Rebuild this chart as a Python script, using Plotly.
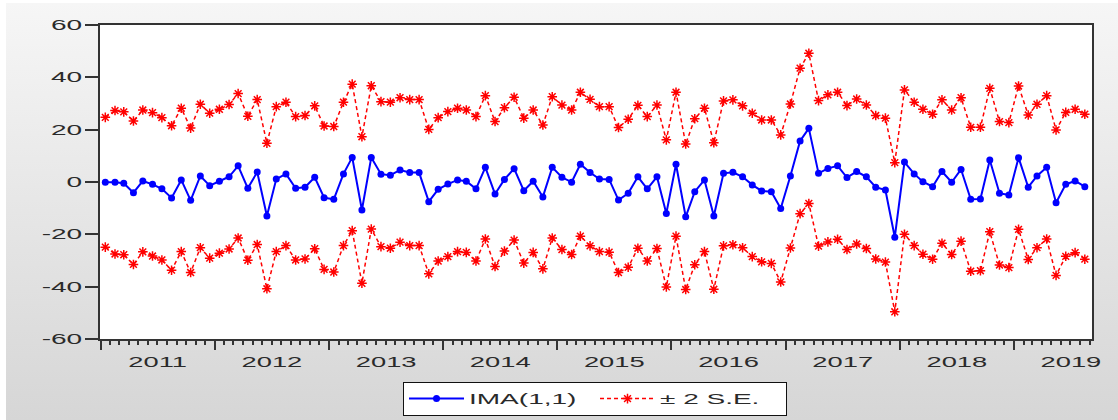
import base64
import pandas as pd
import plotly.graph_objects as go

# ---------------- data ----------------
start_month = "2011-01-01"
n_obs = 104
forecast = [
    -0.1, -0.1, -0.5, -4.1, 0.4, -0.9, -2.6, -6.1, 0.8, -7.0, 2.3, -1.4,
    0.3, 2.0, 6.2, -2.4, 3.8, -13.0, 1.1, 3.1, -2.4, -2.0, 1.8, -6.0,
    -6.6, 3.1, 9.4, -10.7, 9.4, 3.0, 2.6, 4.6, 3.6, 3.6, -7.5, -2.8,
    -0.8, 0.8, 0.3, -2.6, 5.6, -4.6, 1.0, 5.1, -3.3, 0.3, -5.7, 5.6,
    1.8, -0.1, 6.8, 3.6, 1.1, 1.0, -6.9, -4.3, 2.0, -2.6, 2.0, -12.0,
    6.8, -13.3, -3.7, 0.8, -13.0, 3.3, 3.7, 2.0, -1.1, -3.4, -3.7, -10.1,
    2.3, 15.7, 20.5, 3.3, 5.2, 6.2, 1.7, 4.0, 2.0, -2.0, -3.1, -21.1,
    7.6, 3.1, 0.1, -1.8, 4.0, -0.1, 4.8, -6.6, -6.5, 8.4, -4.3, -5.0,
    9.3, -2.0, 2.3, 5.6, -7.9, -0.9, 0.4, -1.8,
]
two_se = [
    24.8, 27.4, 27.3, 27.4, 27.1, 27.4, 27.2, 27.6, 27.4, 27.6, 27.4, 27.7,
    27.5, 27.6, 27.6, 27.5, 27.7, 27.8, 27.7, 27.4, 27.4, 27.4, 27.3, 27.4,
    27.8, 27.4, 28.0, 28.0, 27.4, 27.7, 27.9, 27.6, 27.9, 27.9, 27.6, 27.4,
    27.7, 27.4, 27.2, 27.6, 27.4, 27.7, 27.4, 27.3, 27.7, 27.2, 27.5, 27.0,
    27.6, 27.6, 27.5, 28.0, 27.7, 27.8, 27.7, 28.3, 27.3, 27.6, 27.4, 28.1,
    27.5, 27.8, 27.9, 27.4, 28.0, 27.7, 27.7, 27.1, 27.4, 27.1, 27.4, 28.1,
    27.5, 27.8, 28.7, 27.8, 28.1, 28.1, 27.5, 27.7, 27.4, 27.4, 27.5, 28.5,
    27.6, 27.4, 27.7, 27.7, 27.4, 27.6, 27.4, 27.5, 27.4, 27.4, 27.4, 27.7,
    27.4, 27.6, 27.4, 27.4, 27.8, 27.5, 27.4, 27.7,
]
series_names = ["IMA(1,1)", "\u00b1 2 S.E."]
y_tick_values = [-60, -40, -20, 0, 20, 40, 60]
y_tick_labels = ["-60", "-40", "-20", "0", "20", "40", "60"]

# ---------------- derived ----------------
dates = pd.date_range(start_month, periods=n_obs, freq="MS") + pd.Timedelta(days=15)
upper = [f + s for f, s in zip(forecast, two_se)]
lower = [f - s for f, s in zip(forecast, two_se)]

BLUE = "#0000ff"
RED = "#ff0000"
TXT = "#2a2a2a"
FONT = "Liberation Sans, Arial, sans-serif"

fig = go.Figure()
fig.add_trace(go.Scatter(
    x=dates, y=forecast, name=series_names[0], mode="lines+markers",
    line=dict(color=BLUE, width=2),
    marker=dict(symbol="circle", size=7, color=BLUE),
))
fig.add_trace(go.Scatter(
    x=dates, y=upper, name=series_names[1], mode="lines+markers",
    legendgroup="se",
    line=dict(color=RED, width=1.5, dash="4px,3px"),
    marker=dict(symbol="asterisk-open", size=8, color=RED, line=dict(color=RED, width=1.5)),
))
fig.add_trace(go.Scatter(
    x=dates, y=lower, name=series_names[1], mode="lines+markers",
    legendgroup="se", showlegend=False,
    line=dict(color=RED, width=1.5, dash="4px,3px"),
    marker=dict(symbol="asterisk-open", size=8, color=RED, line=dict(color=RED, width=1.5)),
))

# gray gradient background for the whole panel
svg = (
    '<svg xmlns="http://www.w3.org/2000/svg" width="100" height="100" preserveAspectRatio="none">'
    '<defs><linearGradient id="g" x1="0" y1="0" x2="0" y2="1">'
    '<stop offset="0" stop-color="#f6f6f6"/><stop offset="1" stop-color="#d6d6d6"/>'
    '</linearGradient></defs><rect width="100" height="100" fill="url(#g)"/></svg>'
)
svg_uri = "data:image/svg+xml;base64," + base64.b64encode(svg.encode()).decode()

W, H = 1118, 420
ML, MR, MT, MB = 100, 26, 25, 81
pw, ph = W - ML - MR, H - MT - MB
px0, py0 = 6, 3  # panel top-left in page pixels

fig.add_layout_image(dict(
    source=svg_uri, xref="paper", yref="paper",
    x=(px0 - ML) / pw, y=(H - MB - py0) / ph,
    sizex=(W - px0) / pw, sizey=(H - py0) / ph,
    xanchor="left", yanchor="top", sizing="stretch", layer="below",
))
fig.add_shape(type="rect", xref="paper", yref="paper", x0=0, x1=1, y0=0, y1=1,
              fillcolor="white", line=dict(width=0), layer="below")

fig.update_layout(
    template="none",
    width=W, height=H,
    margin=dict(l=ML, r=MR, t=MT, b=MB, autoexpand=False),
    paper_bgcolor="white", plot_bgcolor="white",
    font=dict(family=FONT, color=TXT, size=14),
    showlegend=True,
    legend=dict(
        orientation="h", x=0.499, xanchor="center", y=-0.137, yanchor="top",
        bgcolor="white", bordercolor="#111111", borderwidth=1,
        font=dict(size=14, color=TXT, family=FONT),
        itemwidth=55, entrywidth=121, entrywidthmode="pixels",
        traceorder="normal",
    ),
    xaxis=dict(
        type="date", range=["2010-12-30", "2019-09-08"], automargin=False,
        tick0="2011-01-01", dtick="M12", tickformat="%Y", ticklabelmode="period",
        ticks="outside", ticklen=9, tickwidth=2, tickcolor="#333333",
        showline=True, linewidth=2, linecolor="#333333", mirror=True,
        showgrid=False, zeroline=False,
        tickfont=dict(size=14, color=TXT, family=FONT),
        minor=dict(dtick="M1", ticks="outside", ticklen=4, tickwidth=1.5,
                   tickcolor="#333333", showgrid=False),
    ),
    yaxis=dict(
        range=[-60, 60], tickvals=y_tick_values, ticktext=y_tick_labels, automargin=False,
        ticks="outside", ticklen=13, tickwidth=1.5, tickcolor="#333333",
        showline=True, linewidth=2, linecolor="#333333", mirror=True,
        showgrid=False, zeroline=False, ticklabelstandoff=0,
        tickfont=dict(size=14, color=TXT, family=FONT),
    ),
)

# the reference text is horizontally stretched; widen glyphs of the labels
post_js = """
document.body.style.margin = '0';
var gd = document.getElementById('{plot_id}');
function stretchText(){
  var groups = [['.xtick text', 1.95], ['.ytick text', 2.0], ['.legendtext', 2.0]];
  groups.forEach(function(g){
    gd.querySelectorAll(g[0]).forEach(function(t){
      if (t.getAttribute('data-base-len') === null) {
        t.setAttribute('data-base-len', t.getComputedTextLength());
      }
      var w = parseFloat(t.getAttribute('data-base-len'));
      t.setAttribute('textLength', (w * g[1]).toFixed(1));
      t.setAttribute('lengthAdjust', 'spacingAndGlyphs');
    });
  });
}
stretchText();
gd.on('plotly_afterplot', stretchText);
"""

fig.write_html("out.html", post_script=post_js, config={"displayModeBar": False})
